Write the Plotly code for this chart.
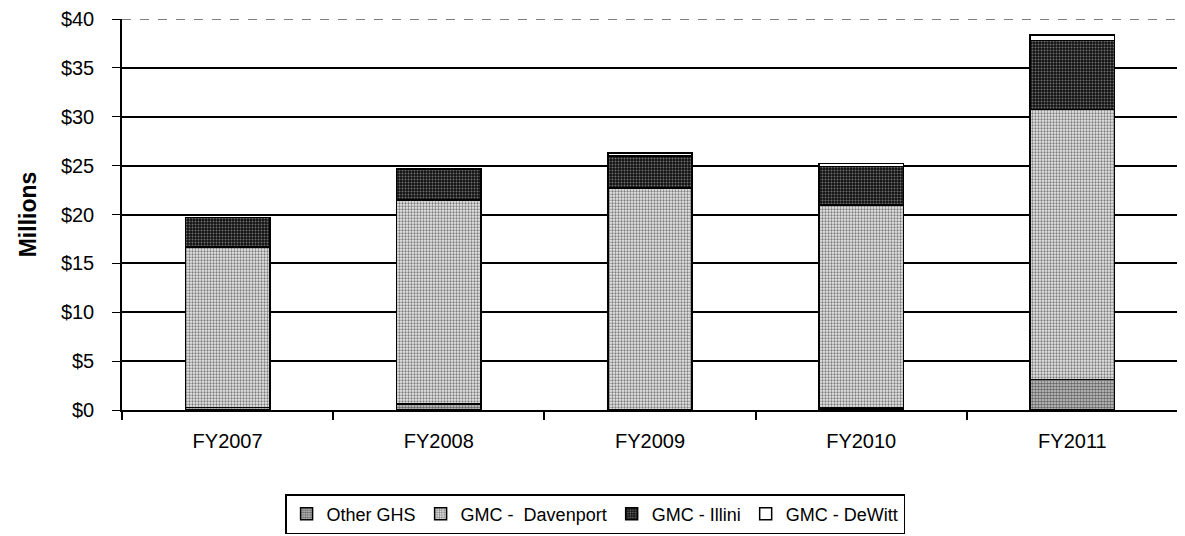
import plotly.graph_objects as go

categories = ["FY2007", "FY2008", "FY2009", "FY2010", "FY2011"]
other_ghs = [0.25, 0.6, 0.05, 0.2, 3.1]
davenport = [16.45, 20.9, 22.65, 20.75, 27.65]
illini = [3.0, 3.1, 3.3, 3.95, 7.05]
dewitt = [0.0, 0.05, 0.3, 0.3, 0.55]
series_names = ["Other GHS", "GMC -  Davenport", "GMC - Illini", "GMC - DeWitt"]
tick_vals = [0, 5, 10, 15, 20, 25, 30, 35, 40]
tick_text = ["$0", "$5", "$10", "$15", "$20", "$25", "$30", "$35", "$40"]

styles = [
    dict(bg="#cccccc", fg="#000000", shape=".", size=3, sol=0.55),
    dict(bg="#e8e8e8", fg="#111111", shape=".", size=3, sol=0.45),
    dict(bg="#111111", fg="#cccccc", shape=".", size=3, sol=0.35),
    dict(bg="white", fg="white", shape="", size=3, sol=0.3),
]

fig = go.Figure()
for name, vals, st in zip(series_names, [other_ghs, davenport, illini, dewitt], styles):
    marker = dict(color=st["bg"], line=dict(color="black", width=1.5))
    if st["shape"]:
        marker["pattern"] = dict(shape=st["shape"], fgcolor=st["fg"], bgcolor=st["bg"],
                                 size=st["size"], solidity=st["sol"], fillmode="overlay")
    fig.add_trace(go.Bar(name=name, x=categories, y=vals, marker=marker))

fig.add_shape(type="line", xref="paper", yref="y", x0=0, x1=1, y0=40, y1=40,
              line=dict(color="white", width=2.5), layer="above")
fig.add_shape(type="line", xref="paper", yref="y", x0=0, x1=1, y0=40, y1=40,
              line=dict(color="black", width=1, dash="dash"), layer="above")

fig.update_layout(
    barmode="stack",
    bargap=0.6,
    width=1177, height=540,
    margin=dict(l=114, r=7, t=11, b=138),
    plot_bgcolor="white", paper_bgcolor="white",
    font=dict(family="Liberation Sans, Arial, sans-serif", size=19, color="black"),
    xaxis=dict(showline=True, linecolor="black", linewidth=2, ticks="outside",
               tickson="boundaries", ticklen=8, tickcolor="black", tickwidth=1.5,
               showgrid=False, tickfont=dict(size=20), automargin=False,
               ticklabelstandoff=12),
    yaxis=dict(range=[0, 40], tickvals=tick_vals, ticktext=tick_text,
               showline=True, linecolor="black", linewidth=1.5,
               ticks="outside", ticklen=8, tickcolor="black",
               showgrid=True, gridcolor="black", gridwidth=1.5, zeroline=False,
               tickfont=dict(size=20), automargin=False, ticklabelstandoff=14,
               title=dict(text="<b>Millions</b>", font=dict(size=23), standoff=18)),
    legend=dict(orientation="h", x=0.448, xanchor="center", y=-0.215, yanchor="top",
                bordercolor="black", borderwidth=1.5, font=dict(size=18),
                traceorder="normal", itemwidth=30),
)

fig.write_html("out.html")
